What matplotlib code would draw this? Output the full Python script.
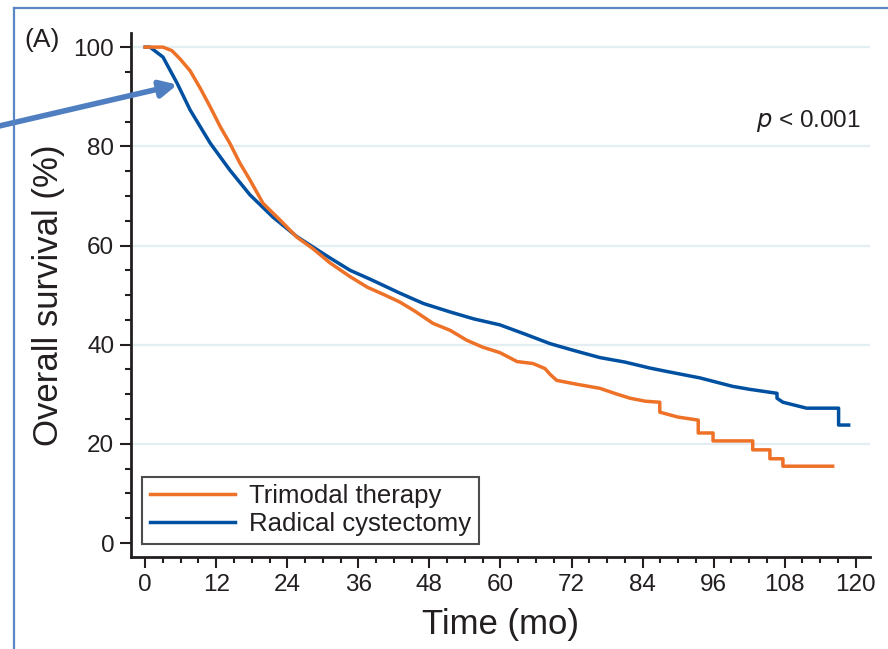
import matplotlib
matplotlib.use("Agg")
import matplotlib.pyplot as plt
from matplotlib.lines import Line2D
from matplotlib.ticker import MultipleLocator

plt.rcParams['font.family'] = ['Liberation Sans', 'DejaVu Sans']

# Kaplan-Meier curves (months, % surviving)
tmt_time = [0, 3, 4.5, 5.9, 7.6, 9.3, 11, 12.7, 14.3, 16, 17.7, 19.9, 22.8, 25.6,
            28.4, 31.2, 34.5, 37.5, 40.5, 43, 45.5, 48.6, 51.5, 54.3, 57, 59.9,
            62.8, 65.5, 67.5, 68.4, 69.5, 73, 76.8, 79.5, 81.9, 84.5, 86.9, 86.9, 90,
            93.4, 93.4, 95.9, 95.9, 102.6, 102.6, 105.5, 105.5, 107.7, 107.7, 116.1]
tmt_surv = [100, 100, 99.3, 97.6, 95.2, 91.7, 87.9, 83.9, 80.6, 76.6, 73.2, 68.5, 65.1, 61.7,
            59.3, 56.5, 53.8, 51.6, 50.0, 48.6, 46.8, 44.3, 42.9, 40.9, 39.5, 38.4,
            36.6, 36.2, 35.2, 34.0, 32.8, 32.0, 31.2, 30.1, 29.2, 28.6, 28.4, 26.4, 25.4,
            24.8, 22.2, 22.2, 20.6, 20.6, 18.8, 18.8, 17.0, 17.0, 15.5, 15.5]

rc_time = [0, 0.8, 3, 5.4, 7.6, 11, 14.3, 17.7, 21.6, 25.6, 31.2, 34.6, 38, 43, 47,
           51.5, 55.5, 59.9, 64, 68.4, 72.5, 76.8, 81, 85.2, 88.1, 93.7, 99.2, 102.1,
           106.7, 106.7, 107.7, 111.7, 117.1, 117.1, 118.8]
rc_surv = [100, 100, 98, 92.7, 87.3, 80.6, 75.2, 70.2, 65.7, 61.8, 57.5, 55.0, 53.2, 50.4, 48.3,
           46.6, 45.2, 44.0, 42.2, 40.2, 38.8, 37.4, 36.5, 35.3, 34.6, 33.3, 31.6, 31.0,
           30.2, 29.2, 28.4, 27.2, 27.2, 23.8, 23.8]

x_ticks = [0, 12, 24, 36, 48, 60, 72, 84, 96, 108, 120]
y_ticks = [0, 20, 40, 60, 80, 100]

orange = '#EE7128'
blue = '#0050A1'
ink = '#231F20'

fig = plt.figure(figsize=(8.88, 6.49), dpi=100)
ax = fig.add_axes([0.1475, 0.1418, 0.8322, 0.807])

for y in y_ticks[1:]:
    ax.axhline(y, color='#E3EEF2', lw=1.6, zorder=0)

ax.plot(tmt_time, tmt_surv, color=orange, lw=2.5, label='Trimodal therapy', zorder=3)
ax.plot(rc_time, rc_surv, color=blue, lw=2.5, label='Radical cystectomy', zorder=2)

ax.set_xlim(-2.4, 122.4)
ax.set_ylim(-2.8, 102.8)
ax.set_xticks(x_ticks)
ax.set_yticks(y_ticks)
ax.xaxis.set_minor_locator(MultipleLocator(3))
ax.yaxis.set_minor_locator(MultipleLocator(5))
ax.tick_params(which='major', length=8, width=1.5, color=ink, labelsize=17.5, labelcolor=ink, pad=4)
ax.tick_params(which='minor', length=4.5, width=1.5, color=ink)
for side in ['top', 'right']:
    ax.spines[side].set_visible(False)
for side in ['left', 'bottom']:
    ax.spines[side].set_linewidth(2)
    ax.spines[side].set_color(ink)

ax.set_xlabel('Time (mo)', fontsize=25, color=ink, labelpad=9)
ax.set_ylabel('Overall survival (%)', fontsize=25, color=ink, labelpad=6)

leg = ax.legend(loc='lower left', bbox_to_anchor=(0.0155, 0.025), fontsize=18.5,
                frameon=True, fancybox=False, handlelength=3.3, borderpad=0.3,
                labelspacing=0.15, handletextpad=0.55, borderaxespad=0)
leg.get_frame().set_edgecolor(ink)
leg.get_frame().set_linewidth(1.5)
for t in leg.get_texts():
    t.set_color(ink)

ax.text(0.988, 0.832, r'$\it{p}$ < 0.001', transform=ax.transAxes, ha='right', va='center',
        fontsize=17.5, color=ink)
fig.text(0.028, 0.938, '(A)', fontsize=19, color=ink, ha='left', va='center')

# panel frame
frame = '#5B86C5'
fig.add_artist(Line2D([14 / 888, 14 / 888], [0, 1 - 8 / 649], transform=fig.transFigure,
                      color=frame, lw=1.6))
fig.add_artist(Line2D([14 / 888, 1], [1 - 8 / 649, 1 - 8 / 649], transform=fig.transFigure,
                      color=frame, lw=1.6))

# pointer arrow
ax.annotate('', xy=(180, 649 - 84), xycoords='figure pixels',
            xytext=(-5, 649 - 127), textcoords='figure pixels',
            arrowprops=dict(arrowstyle='-|>,head_length=1.0,head_width=0.5',
                            color='#4F7FC0', lw=4), zorder=5)

fig.savefig('out.png', dpi=100)
